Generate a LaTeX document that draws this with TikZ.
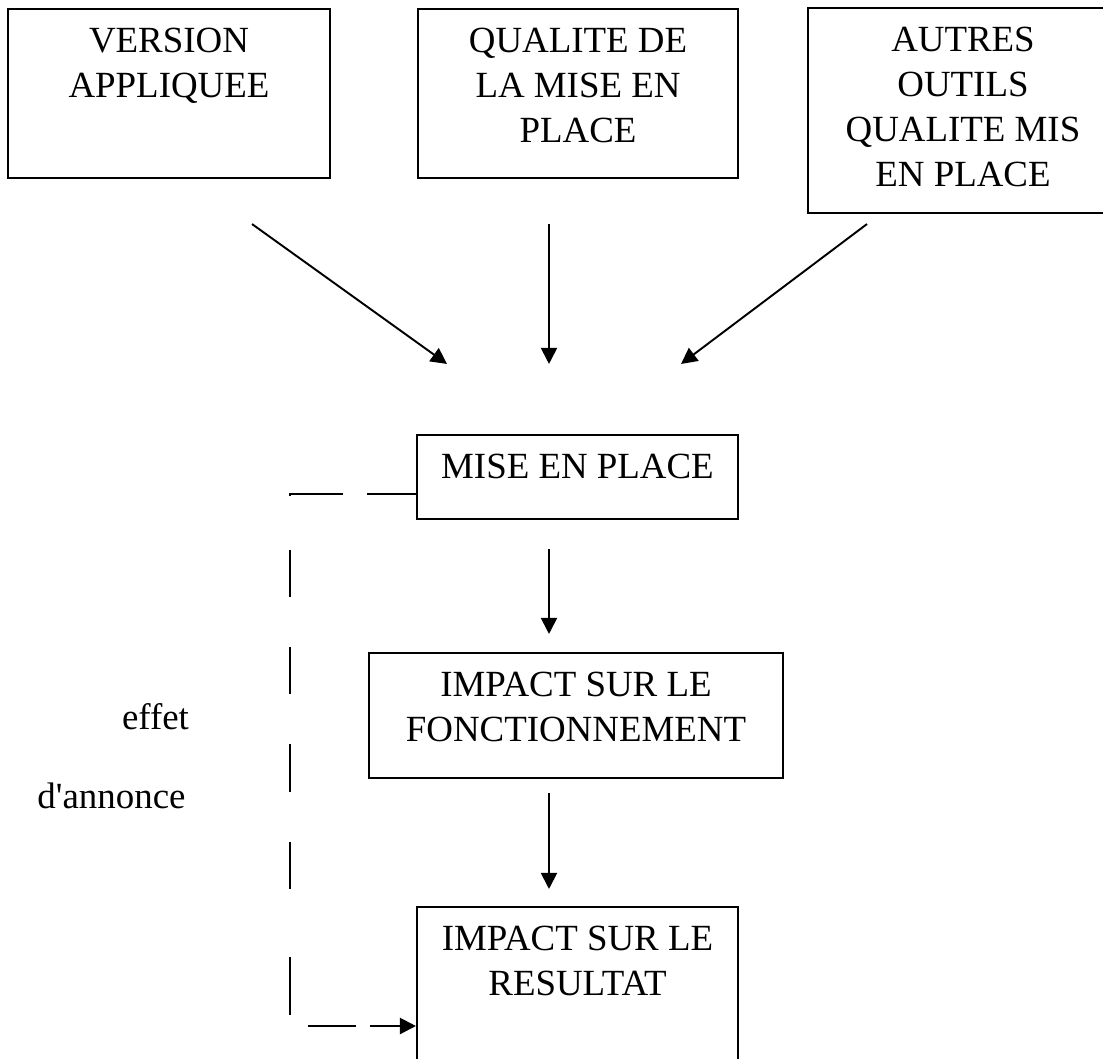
\documentclass[tikz,border=0pt]{standalone}
\usepackage{fontspec}
\setmainfont{Liberation Serif}[Ligatures=TeXOff]
\usepackage{tikz}
\usetikzlibrary{calc,arrows.meta}
\tikzstyle{bloc}  = [rectangle, draw=black, line width=1.2pt, inner sep=0pt, font=\fontsize{21}{25.6}\selectfont]
\tikzstyle{arrow} = [line width=1.1pt,-{Triangle[length=0.32cm,width=0.32cm]}]
\tikzstyle{dashedarrow} = [line width=1.2pt,-{Triangle[length=0.32cm,width=0.32cm]},
  dash pattern=on 0.98cm off 0.48cm on 1.10cm off 1.08cm on 0.94cm off 1.00cm on 0.94cm off 1.00cm on 0.96cm off 1.00cm on 0.94cm off 1.36cm on 1.16cm off 0.58cm on 0.96cm off 0.28cm on 2cm]
\tikzstyle{label} = [font=\fontsize{21}{25.6}\selectfont, anchor=base]
\newcommand{\boite}[3]{\parbox[c][#2][t]{#1}{\centering\vspace{10.6pt}#3}}

\begin{document}
\begin{tikzpicture}[x=0.02cm, y=-0.02cm]
        \useasboundingbox (0,0) rectangle (1103,1059);
        \node (version) [bloc] at (169,93.5) {\boite{6.44cm}{3.38cm}{VERSION\\APPLIQUEE}};
        \node (qualite) [bloc] at (578,93.5) {\boite{6.40cm}{3.38cm}{QUALITE DE\\LA MISE EN\\PLACE}};
        \node (autres) [bloc] at (963,110.5) {\boite{6.20cm}{4.10cm}{AUTRES\\OUTILS\\QUALITE MIS\\EN PLACE}};
        \node (mise) [bloc] at (577.5,477) {\boite{6.42cm}{1.68cm}{MISE EN PLACE}};
        \node (fonct) [bloc] at (576,715.5) {\boite{8.28cm}{2.50cm}{IMPACT SUR LE\\FONCTIONNEMENT}};
        \node (resultat) [bloc] at (577.5,991) {\boite{6.42cm}{3.36cm}{IMPACT SUR LE\\RESULTAT}};
        \node (effet) [label] at (155.5,729) {effet};
        \node (annonce) [label] at (111.5,808) {d'annonce};

        \coordinate (coinhaut) at (290,494);
        \coordinate (coinbas) at (290,1026);

        \draw [arrow] ($(version.south east)+(-79,45)$) -- ($(mise.north west)+(31,-70)$);
        \draw [arrow] ($(qualite.south)+(-29,45)$) -- ($(mise.north)+(-28.5,-70)$);
        \draw [arrow] ($(autres.south west)+(60,10)$) -- ($(mise.north east)+(-58,-70)$);
        \draw [arrow] ($(mise.south)+(-28.5,29)$) -- ($(fonct.north)+(-27,-18)$);
        \draw [arrow] ($(fonct.south)+(-27,14)$) -- ($(resultat.north)+(-28.5,-17)$);
        \draw [dashedarrow] (mise.west |- coinhaut) -- (coinhaut) -- (coinbas) -- (coinbas -| resultat.west);
    \end{tikzpicture}
\end{document}
